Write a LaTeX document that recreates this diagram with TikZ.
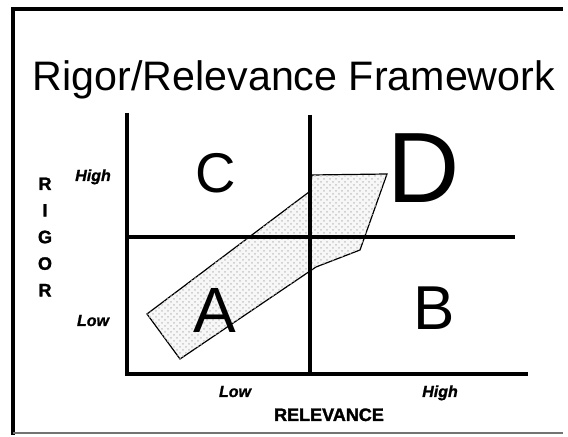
\documentclass[tikz,border=0pt]{standalone}
\usepackage{fontspec}
\setmainfont{Liberation Sans}
\newfontfamily\heavyfont[BoldFeatures={FakeBold=1.6},BoldItalicFeatures={FakeBold=1.2}]{Liberation Sans}
\usetikzlibrary{patterns}
\tikzset{
 axis/.style={line width=2pt},
 arrowfill/.style={fill=black!3,line width=0.6pt,postaction={pattern=crosshatch dots,pattern color=black!22}},
 quad/.style={anchor=base,inner sep=0pt},
 lvl/.style={anchor=base,inner sep=0pt,font=\fontsize{8}{8}\heavyfont\bfseries\itshape},
 axlabel/.style={inner sep=0pt,font=\fontsize{9}{13.3}\heavyfont\bfseries}
}
\begin{document}
\begin{tikzpicture}[x=0.5pt,y=-0.5pt]
\useasboundingbox (0,0) rectangle (568,437);
\draw[line width=2pt](563,9)--(13,9)--(13,435);
\draw[black!55,line width=0.8pt](13,433)--(563,433);
\node[anchor=base,inner sep=0pt,font=\fontsize{20.6}{20.6}\selectfont] (title) at (294,90.5) {Rigor/Relevance Framework};
\coordinate (a1) at (147,314);
\coordinate (a2) at (180,359);
\coordinate (a3) at (316,267);
\coordinate (a4) at (360,250);
\coordinate (a5) at (387,174);
\coordinate (a6) at (312,175);
\coordinate (a7) at (309,192);
\filldraw[arrowfill](a1)--(a2)--(a3)--(a4)--(a5)--(a6)--(a7)--cycle;
\coordinate (o) at (127,374);
\coordinate (ytop) at (127,113);
\coordinate (xend) at (528,374);
\coordinate (mtop) at (310,115);
\coordinate (mbot) at (310,374);
\coordinate (hl) at (127,237);
\coordinate (hr) at (515,237);
\draw[axis](ytop)--(o)--(xend);
\draw[axis](mtop)--(mbot);
\draw[axis](hl)--(hr);
\node[quad,font=\fontsize{28}{28}\selectfont] (qc) at (216,193) {C};
\node[quad,font=\fontsize{50}{50}\selectfont] (qd) at (424,203) {D};
\node[quad,font=\fontsize{32}{32}\selectfont] (qa) at (215,333) {A};
\node[quad,font=\fontsize{31}{31}\selectfont] (qb) at (434,330) {B};
\node[lvl] (yhigh) at (93,181) {High};
\node[lvl] (ylow) at (93,326) {Low};
\node[lvl] (xlow) at (235,397) {Low};
\node[lvl] (xhigh) at (440,397) {High};
\node[axlabel,anchor=base] (relevance) at (329,421) {RELEVANCE};
\node[axlabel,align=center] (rigor) at (45,237) {R\\I\\G\\O\\R};
\end{tikzpicture}
\end{document}
